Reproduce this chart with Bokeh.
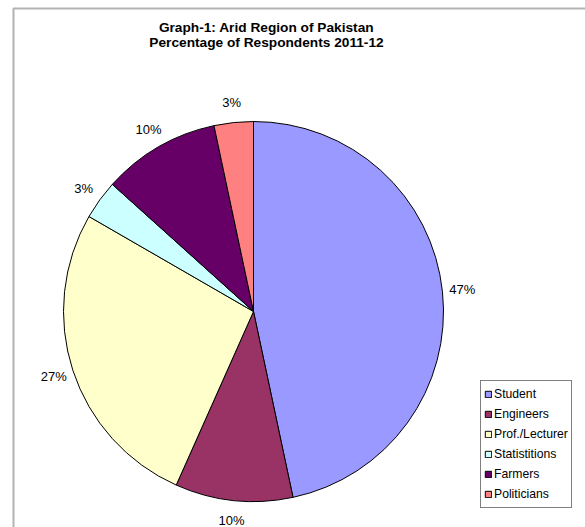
import math
from bokeh.plotting import figure
from bokeh.models import Range1d, BoxAnnotation, Label, Legend, LegendItem, ColumnDataSource
from bokeh.embed import file_html
from bokeh.resources import INLINE

# ---- data ----
categories = ["Student", "Engineers", "Prof./Lecturer", "Statistitions", "Farmers", "Politicians"]
respondents = [14, 3, 8, 1, 3, 1]
colors = ["#9999FF", "#993366", "#FFFFCC", "#CCFFFF", "#660066", "#FF8080"]
title_lines = ["Graph-1: Arid Region of Pakistan", "Percentage of Respondents 2011-12"]

# ---- layout ----
W, H = 585, 527
CX, CY = 253, 216
R = 190
LABEL_R = 210
FONT = "Liberation Sans"

total = sum(respondents)
starts, ends, pcts, lx, ly = [], [], [], [], []
cum = 0.0
for v in respondents:
    f0 = cum / total
    cum += v
    f1 = cum / total
    starts.append(math.pi / 2 - 2 * math.pi * f0)
    ends.append(math.pi / 2 - 2 * math.pi * f1)
    mid = math.pi / 2 - 2 * math.pi * (f0 + f1) / 2
    lx.append(CX + LABEL_R * math.cos(mid))
    ly.append(CY + LABEL_R * math.sin(mid))
    pcts.append(f"{round(100 * v / total)}%")

src = ColumnDataSource(dict(cat=categories, val=respondents, start=starts, end=ends,
                            color=colors, pct=pcts, lx=lx, ly=ly))

p = figure(width=W, height=H, output_backend="svg", toolbar_location=None,
           x_range=Range1d(0, W), y_range=Range1d(0, H),
           min_border=0, min_border_left=0, min_border_right=0,
           min_border_top=0, min_border_bottom=0)
p.axis.visible = False
p.grid.visible = False
p.outline_line_color = None
p.background_fill_color = "white"
p.border_fill_color = "white"

r = p.wedge(x=CX, y=CY, radius=R, start_angle="start", end_angle="end",
            direction="clock", fill_color="color", line_color="black",
            line_width=1, source=src)

p.text(x="lx", y="ly", text="pct", source=src, text_align="center",
       text_baseline="middle", text_font_size="13px", text_color="black",
       text_font={"value": FONT})

# chart-area border (its right and bottom edges lie outside the crop)
p.add_layout(BoxAnnotation(left=13, top=519, right=W + 100, bottom=-100,
                           fill_alpha=0, fill_color=None,
                           line_color="black", line_width=2))

for i, t in enumerate(title_lines):
    p.add_layout(Label(x=266, y=500 - 15 * i, text=t, text_align="center",
                       text_baseline="middle", text_font=FONT,
                       text_font_size="13.7px", text_font_style="bold",
                       text_color="black"))

items = [LegendItem(label=c, renderers=[r], index=i) for i, c in enumerate(categories)]
legend = Legend(items=items, location=(480, 19), orientation="vertical",
                label_text_font=FONT, label_text_font_size="12.2px",
                label_text_color="black", glyph_width=8, glyph_height=8,
                label_height=20, spacing=0, padding=3, margin=0,
                label_standoff=2, border_line_color="black", border_line_width=1,
                background_fill_color="white", background_fill_alpha=1.0)
p.add_layout(legend, "center")

open("out.html", "w").write(file_html(p, INLINE))
